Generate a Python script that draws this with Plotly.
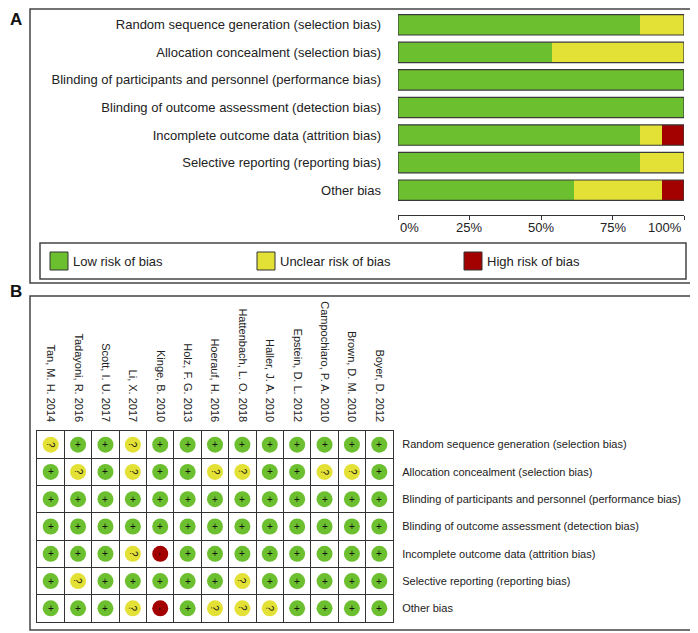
import plotly.graph_objects as go

# risk of bias domains (rows)
domains = [
    "Random sequence generation (selection bias)",
    "Allocation concealment (selection bias)",
    "Blinding of participants and personnel (performance bias)",
    "Blinding of outcome assessment (detection bias)",
    "Incomplete outcome data (attrition bias)",
    "Selective reporting (reporting bias)",
    "Other bias",
]

# included studies (columns)
studies = [
    "Tan, M. H. 2014", "Tadayoni, R. 2016", "Scott, I. U. 2017", "Li, X. 2017",
    "Kinge, B. 2010", "Holz, F. G. 2013", "Hoerauf, H. 2016", "Hattenbach, L. O. 2018",
    "Haller, J. A. 2010", "Epstein, D. L. 2012", "Campochiaro, P. A. 2010",
    "Brown, D. M. 2010", "Boyer, D. 2012",
]

# judgements per domain, one letter per study: L = low, U = unclear, H = high
judgements = [
    "ULLULLLLLLLLL",
    "LULULLUULLUUL",
    "LLLLLLLLLLLLL",
    "LLLLLLLLLLLLL",
    "LLLUHLLLLLLLL",
    "LULLLLLULLLLL",
    "LLLUHLUUULLLL",
]

pct_ticks = [0, 25, 50, 75, 100]
pct_labels = ["0%", "25%", "50%", "75%", "100%"]

levels = ["L", "U", "H"]
level_names = ["Low risk of bias", "Unclear risk of bias", "High risk of bias"]
colors = {"L": "#6cbf2e", "U": "#e3e036", "H": "#a30000"}
glyphs = {"L": "+", "U": "?", "H": "-"}

# page body keeps an 8px margin, so the figure is drawn 8px in from the window
OFF = 8
W, H = 698 - OFF, 633 - OFF
font = "Arial, Liberation Sans, sans-serif"


def px_x(x):
    return (x - OFF) / W


def px_y(y):
    return 1 - (y - OFF) / H


fig = go.Figure()

# ---- panel A : summary bars
n = len(studies)
base = [0.0] * len(domains)
for lev, name in zip(levels, level_names):
    pct = [100.0 * row.count(lev) / n for row in judgements]
    fig.add_trace(go.Bar(
        y=domains, x=pct, base=base, orientation="h",
        marker=dict(color=colors[lev], line=dict(width=0)),
        width=0.74, name=name, showlegend=False,
        xaxis="x", yaxis="y",
    ))
    base = [b + p for b, p in zip(base, pct)]

# outline around each bar
fig.add_trace(go.Bar(
    y=domains, x=[100] * len(domains), base=[0] * len(domains), orientation="h",
    marker=dict(color="rgba(0,0,0,0)", line=dict(width=1.2, color="#3a3a3a")),
    width=0.74, showlegend=False, hoverinfo="skip",
    xaxis="x", yaxis="y",
))

# percent labels: first one sits right of its tick, last one left of it (RevMan style)
for i, (v, t) in enumerate(zip(pct_ticks, pct_labels)):
    anchor = "left" if i == 0 else ("right" if i == len(pct_ticks) - 1 else "center")
    fig.add_annotation(x=v, y=px_y(227), xref="x", yref="paper", text=t, showarrow=False,
                       xanchor=anchor, yanchor="middle",
                       font=dict(size=13, family=font, color="#222"))

# ---- panel B : traffic-light grid
xs, ys, cs = [], [], []
for r, row in enumerate(judgements):
    for c, j in enumerate(row):
        xs.append(c)
        ys.append(r)
        cs.append(colors[j])
        fig.add_annotation(
            x=c, y=r, xref="x2", yref="y2", text=glyphs[j], showarrow=False,
            textangle=90 if j != "L" else 0,
            font=dict(family=font, size=10, color="#111"),
        )

fig.add_trace(go.Scatter(
    x=xs, y=ys, mode="markers",
    marker=dict(size=16, color=cs, line=dict(width=0)),
    showlegend=False, xaxis="x2", yaxis="y2", hoverinfo="skip",
))

fig.update_layout(
    width=W, height=H,
    margin=dict(l=0, r=0, t=0, b=0),
    paper_bgcolor="white", plot_bgcolor="white",
    font=dict(family=font, color="#222"),
    barmode="overlay",
    xaxis=dict(
        domain=[px_x(398), px_x(684)], range=[0, 100], anchor="y",
        tickvals=pct_ticks, showticklabels=False,
        showgrid=False, zeroline=False, showline=True, linecolor="#333", linewidth=1,
        ticks="outside", ticklen=4, tickcolor="#333",
    ),
    yaxis=dict(
        domain=[px_y(215), px_y(11)], range=[6.9, -0.5], anchor="x",
        type="category", categoryorder="array", categoryarray=domains,
        showgrid=False, zeroline=False, showline=False, ticks="",
        ticklabelstandoff=16, tickfont=dict(size=13),
    ),
    xaxis2=dict(
        domain=[px_x(37), px_x(393)], range=[-0.5, n - 0.5], anchor="y2", side="top",
        tickvals=list(range(n)), ticktext=studies, tickangle=90,
        showgrid=False, zeroline=False, showline=True, mirror=True,
        linecolor="#333", linewidth=1, ticks="", ticklabelstandoff=4,
        tickfont=dict(size=11),
        minor=dict(tick0=0.5, dtick=1, showgrid=True, gridcolor="#333", gridwidth=1),
    ),
    yaxis2=dict(
        domain=[px_y(622), px_y(431)], range=[len(domains) - 0.5, -0.5], anchor="x2",
        side="right", tickvals=list(range(len(domains))), ticktext=domains,
        showgrid=False, zeroline=False, showline=True, mirror=True,
        linecolor="#333", linewidth=1, ticks="", ticklabelstandoff=6,
        tickfont=dict(size=11),
        minor=dict(tick0=0.5, dtick=1, showgrid=True, gridcolor="#333", gridwidth=1),
    ),
)

# panel frames and legend
shapes = [
    dict(type="rect", xref="paper", yref="paper", x0=px_x(30), x1=px_x(695),
         y0=px_y(283), y1=px_y(9), line=dict(color="#444", width=1.5)),
    dict(type="rect", xref="paper", yref="paper", x0=px_x(40), x1=px_x(686),
         y0=px_y(279), y1=px_y(243), line=dict(color="#444", width=1.5)),
    dict(type="rect", xref="paper", yref="paper", x0=px_x(30), x1=px_x(695),
         y0=px_y(630), y1=px_y(296), line=dict(color="#444", width=1.5)),
]
legend_x = [50, 257, 464]
for lx, lev, name in zip(legend_x, levels, level_names):
    shapes.append(dict(type="rect", xref="paper", yref="paper",
                       x0=px_x(lx), x1=px_x(lx + 18), y0=px_y(270), y1=px_y(252),
                       fillcolor=colors[lev], line=dict(color="#333", width=1)))
    fig.add_annotation(x=px_x(lx + 21), y=px_y(261), xref="paper", yref="paper",
                       text=name, showarrow=False, xanchor="left", yanchor="middle",
                       font=dict(size=13, family=font, color="#222"))
fig.update_layout(shapes=shapes)

# panel letters
fig.add_annotation(x=0, y=1, xref="paper", yref="paper", text="<b>A</b>",
                   showarrow=False, xanchor="left", yanchor="top",
                   font=dict(size=17, family=font, color="#111"))
fig.add_annotation(x=0, y=px_y(291), xref="paper", yref="paper", text="<b>B</b>",
                   showarrow=False, xanchor="left", yanchor="middle",
                   font=dict(size=17, family=font, color="#111"))

fig.write_html("out.html")
